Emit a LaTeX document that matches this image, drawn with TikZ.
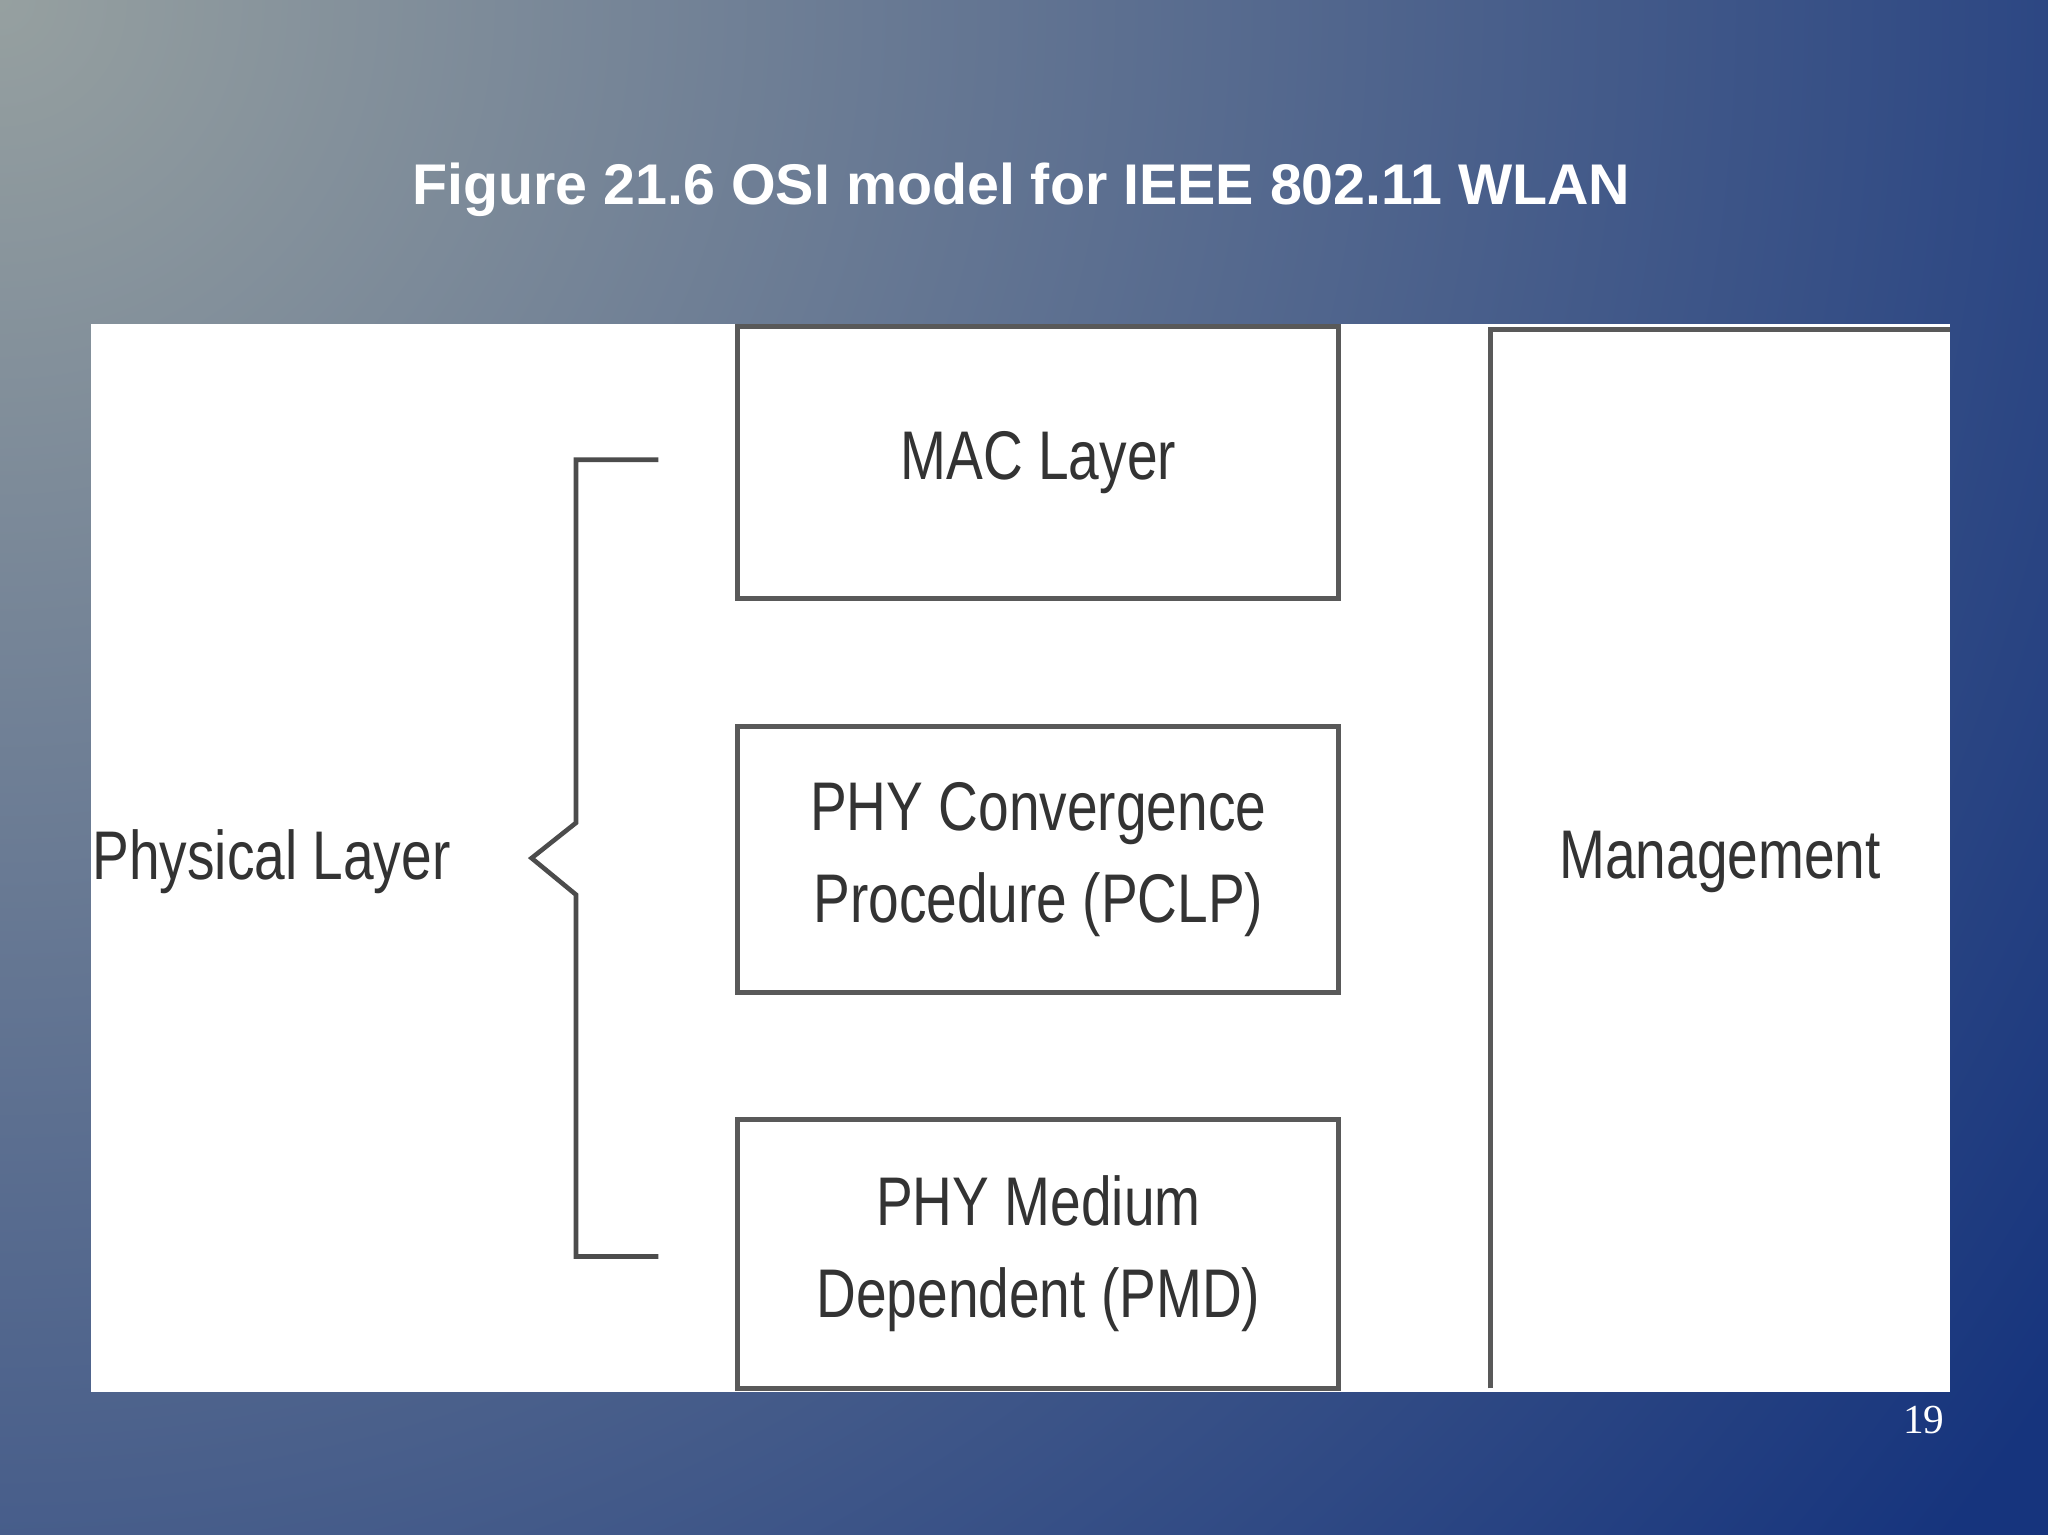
\documentclass[tikz,border=0pt]{standalone}
\usepackage{fontspec}
\setmainfont{Liberation Sans}
\newfontfamily\narrowf{Liberation Sans}[FakeStretch=0.8]
\newfontfamily\serf{Liberation Serif}
\definecolor{bgblue}{RGB}{22,52,125}
\begin{document}
\begin{tikzpicture}[x=0.1mm,y=-0.1mm,
  box/.style={draw=black!65,line width=1.1pt},
  lbl/.style={font=\narrowf\fontsize{15}{20}\selectfont,text=black!80,align=center},
  br/.style={draw=black!70,line width=1pt}]
\useasboundingbox (0,0) rectangle (1568,1175);
\fill[bgblue] (0,0) rectangle (1568,1175);
\begin{scope}
\clip (0,0) rectangle (1568,1175);
\shade[inner color={rgb,255:red,150;green,160;blue,160}, outer color=bgblue] (0,0) circle (1900);
\end{scope}
\node[font=\bfseries\fontsize{12.5}{16}\selectfont,text=white] (title) at (782,145) {Figure 21.6 OSI model for IEEE 802.11 WLAN};
\fill[white] (70,248) rectangle (1493,1066);
\node[box,minimum width=46mm,minimum height=20.8mm,lbl] (mac) at (795,354) {MAC Layer};
\node[box,minimum width=46mm,minimum height=20.4mm,lbl] (pclp) at (795,658) {PHY Convergence\\Procedure (PCLP)};
\node[box,minimum width=46mm,minimum height=20.6mm,lbl] (pmd) at (795,960) {PHY Medium\\Dependent (PMD)};
\draw[box] (1141,1063) -- (1141,252) -- (1493,252);
\node[lbl] (mgmt) at (1317,660) {Management};
\node[lbl,anchor=west,inner sep=0] (phy) at (70,660) {Physical Layer};
\coordinate (t1) at (504,352); \coordinate (t2) at (441,352);
\coordinate (b1) at (504,962); \coordinate (b2) at (441,962);
\coordinate (tip) at (407,657);
\draw[br] (t1) -- (t2) -- (441,630) -- (tip) -- (441,685) -- (b2) -- (b1);
\node[font=\serf\fontsize{9}{11}\selectfont,text=white] (pg) at (1473,1087) {19};
\end{tikzpicture}
\end{document}
